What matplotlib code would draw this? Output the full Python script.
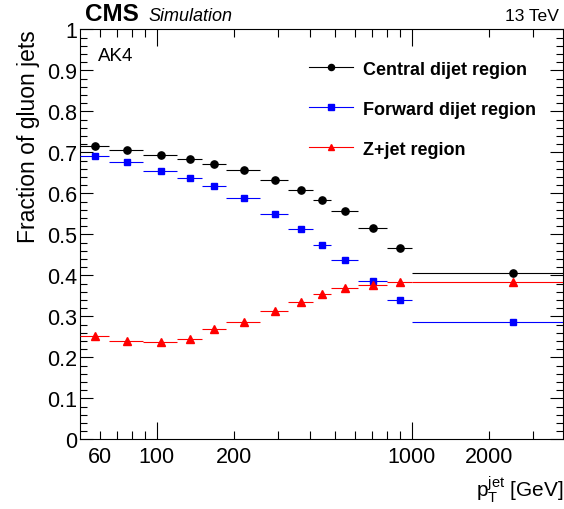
import matplotlib
matplotlib.use("Agg")
import matplotlib.pyplot as plt
from matplotlib.lines import Line2D
from matplotlib.ticker import FixedLocator, FuncFormatter, MultipleLocator
import numpy as np

plt.rcParams["font.family"] = ["Liberation Sans", "DejaVu Sans"]
plt.rcParams["mathtext.fontset"] = "custom"
plt.rcParams["mathtext.rm"] = "Liberation Sans"
plt.rcParams["mathtext.it"] = "Liberation Sans:italic"

# Jet pT bin edges [GeV]
bin_edges = [50, 65, 88, 120, 150, 186, 254, 326, 408, 481, 614, 800, 1000, 4000]

# Gluon-jet fractions per pT bin
central_dijet = [0.715, 0.706, 0.694, 0.683, 0.672, 0.656, 0.633, 0.609, 0.584, 0.556, 0.515, 0.467, 0.405]
forward_dijet = [0.690, 0.676, 0.655, 0.637, 0.617, 0.589, 0.550, 0.512, 0.475, 0.437, 0.387, 0.339, 0.287]
z_jet = [0.253, 0.240, 0.237, 0.245, 0.268, 0.287, 0.314, 0.336, 0.354, 0.368, 0.377, 0.383, 0.384]

series_labels = ["Central dijet region", "Forward dijet region", "Z+jet region"]
x_tick_labels = [60, 100, 200, 1000, 2000]

edges = np.array(bin_edges, dtype=float)
centers = 0.5 * (edges[:-1] + edges[1:])
xerr = np.vstack([centers - edges[:-1], edges[1:] - centers])

fig = plt.figure(figsize=(5.64, 5.10), dpi=100)
ax = fig.add_axes([80 / 564, 69.7 / 510, 483 / 564, 410 / 510])

styles = [
    dict(color="black", marker="o", ms=5.2),
    dict(color="#0000ff", marker="s", ms=4.6),
    dict(color="#ff0000", marker="^", ms=5.2),
]
handles = []
for vals, st, lab in zip([central_dijet, forward_dijet, z_jet], styles, series_labels):
    ax.errorbar(centers, vals, xerr=xerr, fmt=st["marker"], color=st["color"],
                ms=st["ms"], mec=st["color"], mfc=st["color"], elinewidth=0.8,
                capsize=0, zorder=3)
    handles.append(Line2D([], [], color=st["color"], lw=0.8, marker=st["marker"],
                          ms=st["ms"] * 0.85, mfc=st["color"], mec=st["color"]))

ax.set_xscale("log")
ax.set_xlim(50, 3916)
ax.set_ylim(0, 1)

# x axis: decade majors, 2..9 minors, a few labelled minors
ax.xaxis.set_major_locator(FixedLocator([100, 1000]))
ax.xaxis.set_minor_locator(FixedLocator([60, 70, 80, 90, 200, 300, 400, 500, 600, 700,
                                         800, 900, 2000, 3000]))
lab_fmt = FuncFormatter(lambda v, p: str(int(round(v))) if int(round(v)) in x_tick_labels else "")
ax.xaxis.set_major_formatter(lab_fmt)
ax.xaxis.set_minor_formatter(lab_fmt)

ax.yaxis.set_major_locator(MultipleLocator(0.1))
ax.yaxis.set_minor_locator(MultipleLocator(0.02))
ax.yaxis.set_major_formatter(FuncFormatter(lambda v, p: "%g" % round(v, 1)))

ax.tick_params(axis="both", which="both", direction="in", top=True, right=True,
               width=0.8, labelsize=15.5, colors="black")
ax.tick_params(axis="x", which="major", length=12.5, pad=4.5)
ax.tick_params(axis="x", which="minor", length=6, pad=4.5)
ax.tick_params(axis="y", which="major", length=9.5, pad=2)
ax.tick_params(axis="y", which="minor", length=4.8, pad=2)
for sp in ax.spines.values():
    sp.set_linewidth(0.8)

ax.set_ylabel("Fraction of gluon jets", fontsize=16.5, loc="top")
ax.yaxis.set_label_coords(-0.083, 1.0)
ax.set_xlabel(r"$\mathrm{p}_{\mathrm{T}}^{\mathrm{jet}}$ [GeV]", fontsize=15, loc="right",
              va="baseline")
ax.xaxis.set_label_coords(1.0, -0.1376)

ax.legend(handles, series_labels, loc="upper left", bbox_to_anchor=(0.4747, 0.9235),
          frameon=False, borderpad=0, borderaxespad=0, handlelength=2.44,
          handletextpad=0.55, labelspacing=1.27, prop=dict(size=13, weight="bold"))

# Labels placed in figure pixels (origin at top-left)
fig.text(98.3 / 564, 1 - 60.7 / 510, "AK4", fontsize=13.5, va="baseline")
fig.text(85 / 564, 1 - 21 / 510, "CMS", fontsize=17.5, fontweight="bold", va="baseline")
fig.text(148.3 / 564, 1 - 21 / 510, "Simulation", fontsize=13, fontstyle="italic",
         va="baseline")
fig.text(559 / 564, 1 - 21 / 510, "13 TeV", fontsize=12.6, ha="right", va="baseline")

fig.savefig("out.png", dpi=100)
